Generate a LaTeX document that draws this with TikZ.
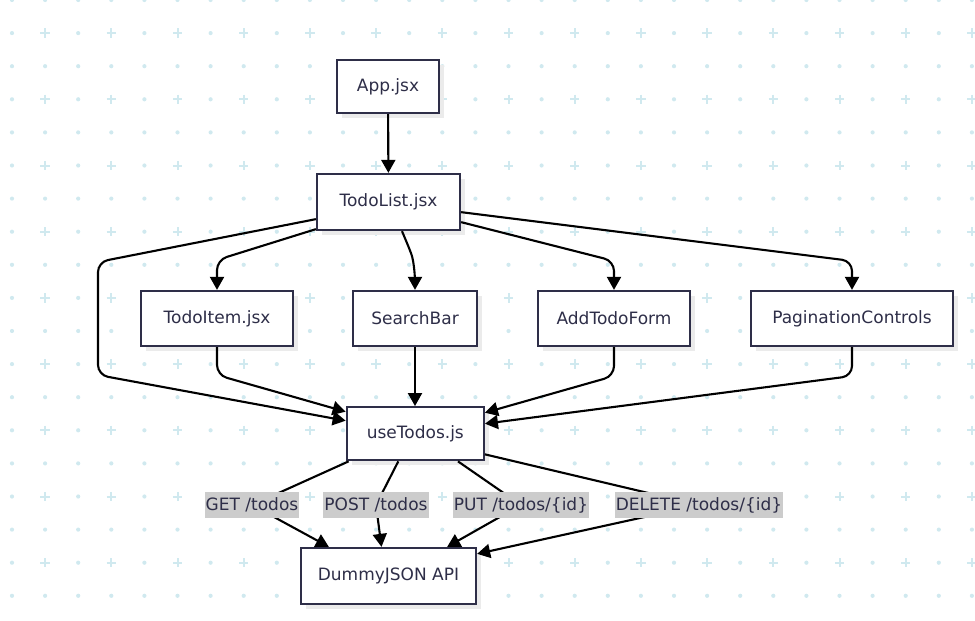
\documentclass[tikz,border=0pt]{standalone}
\usepackage{fontspec}
\setmainfont{DejaVu Sans}
\usetikzlibrary{arrows.meta,shadows,calc}
\definecolor{gridc}{RGB}{208,233,239}
\definecolor{nodeborder}{RGB}{46,46,72}
\definecolor{nodetext}{RGB}{46,46,72}
\definecolor{lblbg}{RGB}{204,204,204}
\begin{document}
\begin{tikzpicture}[x=1pt,y=-1pt,
  box/.style={draw=nodeborder,line width=2.3pt,fill=white,text=nodetext,
    font=\fontsize{17}{20}\selectfont,inner sep=0pt,
    drop shadow={shadow xshift=5pt,shadow yshift=-5pt,fill=black!8,opacity=1}},
  edge/.style={line width=2.1pt,black,-{Triangle[length=13pt,width=14pt]},rounded corners=10pt},
  lbl/.style={sharp corners,fill=lblbg,text=nodetext,font=\fontsize{17}{20}\selectfont,
    inner xsep=1pt,inner ysep=0pt,minimum height=26pt}]
\useasboundingbox (0,0) rectangle (975,621);
% background grid
\foreach \i in {0,...,29}{\foreach \j in {0,...,18}{
  \pgfmathtruncatemacro\pp{mod(\i,2)*mod(\j,2)}
  \ifnum\pp=1
    \draw[gridc,line width=2pt] ({12+33.1*\i-4.7},{33.1*\j}) -- ++(9.4,0)
      ({12+33.1*\i},{33.1*\j-4.7}) -- ++(0,9.4);
  \else
    \fill[gridc] ({12+33.1*\i},{33.1*\j}) circle[radius=2.1pt];
  \fi
}}
% nodes
\node[box,minimum width=102pt,minimum height=53pt] (app) at (388,86.5) {App.jsx};
\node[box,minimum width=143pt,minimum height=56pt] (tl) at (388.5,202) {TodoList.jsx};
\node[box,minimum width=152pt,minimum height=55pt] (ti) at (217,318.5) {TodoItem.jsx};
\node[box,minimum width=124pt,minimum height=55pt] (sb) at (415,318.5) {SearchBar};
\node[box,minimum width=152pt,minimum height=55pt] (af) at (614,318.5) {AddTodoForm};
\node[box,minimum width=202pt,minimum height=55pt] (pc) at (852,318.5) {PaginationControls};
\node[box,minimum width=137pt,minimum height=53pt] (ut) at (415.3,433.7) {useTodos.js};
\node[box,minimum width=175pt,minimum height=56pt] (dj) at (388.5,576) {DummyJSON API};
% edges
\draw[edge] (app) -- (tl);
\draw[edge] ([yshift=2pt]tl.south west) -- (217,260) -- (ti.north);
\draw[edge] ([xshift=13.5pt]tl.south) .. controls (412,255) .. (415,272) -- (sb.north);
\draw[edge] ([yshift=9pt]tl.south east) -- (614,261) -- (af.north);
\draw[edge] ([yshift=19pt]tl.south east) -- (852,261) -- (pc.north);
\draw[edge] ([yshift=12pt]tl.south west) -- (98,262) -- (98,375) -- ([yshift=13pt]ut.west);
\draw[edge] (ti.south) -- (217,375) -- ([yshift=22pt]ut.west);
\draw[edge] (sb.south) -- (sb.south |- ut.north);
\draw[edge] (af.south) -- (614,376) -- ([yshift=21pt]ut.east);
\draw[edge] (pc.south) -- (852,376) -- ([yshift=10pt]ut.east);
% labelled edges
\draw[edge] ([xshift=3pt]ut.south west) -- (252,505) node[lbl] (lget) {GET /todos} -- ([xshift=29pt]dj.north west);
\draw[edge] ([xshift=-17pt]ut.south) -- (376,505) node[lbl] (lpost) {POST /todos} -- ([xshift=-7pt]dj.north);
\draw[edge] ([xshift=-27pt]ut.south east) -- (521,505) node[lbl] (lput) {PUT /todos/\{id\}} -- ([xshift=-30pt]dj.north east);
\draw[edge] ([yshift=7pt]ut.south east) -- (699,505) node[lbl] (ldel) {DELETE /todos/\{id\}} -- ([yshift=-7pt]dj.north east);
\end{tikzpicture}
\end{document}
